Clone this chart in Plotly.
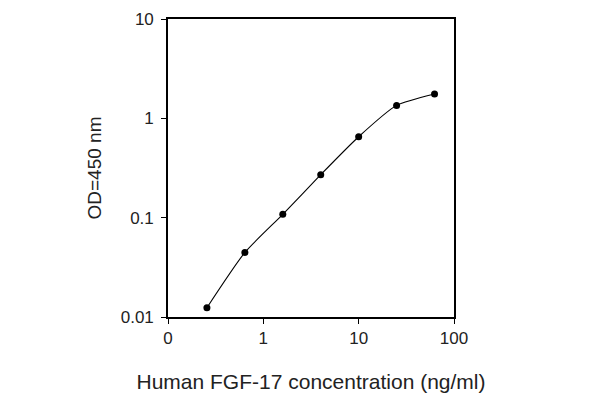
import plotly.graph_objects as go

conc = [0.256, 0.64, 1.6, 4.0, 10.0, 25.0, 62.5]
od = [0.0124, 0.0446, 0.108, 0.271, 0.653, 1.35, 1.76]

x_tickvals = [0.1, 1, 10, 100]
x_ticktext = ["0", "1", "10", "100"]
y_tickvals = [0.01, 0.1, 1, 10]
y_ticktext = ["0.01", "0.1", "1", "10"]

font_family = "Liberation Sans, Arial, sans-serif"

fig = go.Figure(
    go.Scatter(
        x=conc, y=od, mode="lines+markers",
        line=dict(color="black", width=1.1, shape="spline", smoothing=0.6),
        marker=dict(color="black", size=7, symbol="circle"),
        showlegend=False,
    )
)

axis_common = dict(
    showgrid=False, zeroline=False, showline=True, linecolor="black",
    linewidth=1.6, mirror=True, ticks="outside", ticklen=5,
    tickcolor="black", tickwidth=1.4, automargin=False,
    ticklabeloverflow="allow",
    tickfont=dict(family=font_family, size=17, color="#222"),
)

fig.update_xaxes(
    type="log", range=[-1, 2], tickvals=x_tickvals, ticktext=x_ticktext,
    title=dict(text="Human FGF-17 concentration (ng/ml)", standoff=27,
               font=dict(family=font_family, size=21, color="#222")),
    **axis_common,
)
fig.update_yaxes(
    type="log", range=[-2, 1], tickvals=y_tickvals, ticktext=y_ticktext,
    ticklabelstandoff=4,
    title=dict(text="OD=450 nm", standoff=14,
               font=dict(family=font_family, size=19, color="#222")),
    **axis_common,
)

fig.update_layout(
    width=600, height=400,
    margin=dict(l=160, r=154, t=11, b=91, autoexpand=False),
    plot_bgcolor="white", paper_bgcolor="white",
)

fig.write_html("out.html")
